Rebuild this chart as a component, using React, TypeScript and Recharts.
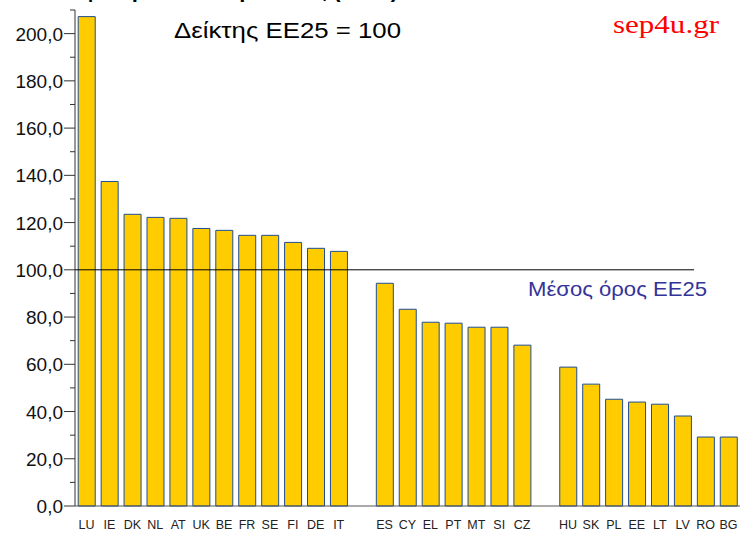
import React from 'react';
import { BarChart, Bar, XAxis, YAxis, ReferenceLine } from 'recharts';

const categories = ['LU','IE','DK','NL','AT','UK','BE','FR','SE','FI','DE','IT',' ','ES','CY','EL','PT','MT','SI','CZ','  ','HU','SK','PL','EE','LT','LV','RO','BG'];
const values: (number | null)[] = [207.2,137.4,123.5,122.2,121.8,117.5,116.7,114.6,114.6,111.6,109.1,107.8,null,94.3,83.3,77.8,77.4,75.7,75.7,68.1,null,58.8,51.6,45.2,44.0,43.1,38.1,29.2,29.2];
const yTicks = [0,10,20,30,40,50,60,70,80,90,100,110,120,130,140,150,160,170,180,190,200,210];
const averageValue = 100;

const data = categories.map((name, i) => ({ name, value: values[i] }));

const FONT = 'Liberation Sans, Arial, sans-serif';

const YTick = (props: any) => {
  const { x, y, payload } = props;
  const v = payload.value as number;
  const major = v % 20 === 0 && v <= 200;
  return (
    <g>
      <line x1={x - (major ? 11 : 5)} x2={x} y1={y} y2={y} stroke="#333" strokeWidth={1} />
      {major && (
        <text x={x - 12} y={y} dy={7} textAnchor="end" fontSize={19} fill="#111" fontFamily={FONT}>
          {v.toFixed(1).replace('.', ',')}
        </text>
      )}
    </g>
  );
};

const XTick = (props: any) => {
  const { x, y, payload } = props;
  return (
    <text x={x} y={y + 23} textAnchor="middle" fontSize={12.5} fill="#222" fontFamily={FONT}>
      {payload.value}
    </text>
  );
};

export default function App() {
  return (
    <div style={{ position: 'absolute', left: 0, top: 0, width: 740, height: 534, background: '#fff', overflow: 'hidden' }}>
      <BarChart
        width={740}
        height={534}
        data={data}
        margin={{ top: 10, right: 0, bottom: 0, left: 0 }}
        barCategoryGap="14%"
      >
        <XAxis
          dataKey="name"
          interval={0}
          tickLine={false}
          tickSize={0}
          tickMargin={0}
          height={28}
          axisLine={{ stroke: '#555' }}
          tick={<XTick />}
        />
        <YAxis
          width={75}
          domain={[0, 210]}
          ticks={yTicks}
          interval={0}
          tickLine={false}
          tickSize={0}
          tickMargin={0}
          axisLine={{ stroke: '#333' }}
          tick={<YTick />}
        />
        <Bar dataKey="value" fill="#FFCC00" stroke="#1f4e96" strokeWidth={1} isAnimationActive={false} />
        <ReferenceLine
          segment={[{ x: 'LU', y: averageValue }, { x: 'RO', y: averageValue }]}
          position="start"
          stroke="#000"
          strokeWidth={1}
        />
      </BarChart>
      <svg width={740} height={534} style={{ position: 'absolute', left: 0, top: 0, pointerEvents: 'none' }}>
        <text x={398} y={-3.5} textAnchor="end" fontSize={22} fontWeight="bold" fill="#000" fontFamily={FONT}>
          Κατά κεφαλήν ΑΕΠ σε μονάδες (ΜΑΔ)
        </text>
        <text x={174} y={37.5} fontSize={22} fill="#000" fontFamily={FONT} textLength={227} lengthAdjust="spacingAndGlyphs">
          Δείκτης ΕΕ25 = 100
        </text>
        <text x={613} y={33} fontSize={26} fill="#ff0000" fontFamily="Liberation Serif, Times New Roman, serif" textLength={106} lengthAdjust="spacingAndGlyphs">
          sep4u.gr
        </text>
        <text x={528} y={296} fontSize={21} fill="#333399" fontFamily={FONT} textLength={179} lengthAdjust="spacingAndGlyphs">
          Μέσος όρος ΕΕ25
        </text>
      </svg>
    </div>
  );
}
